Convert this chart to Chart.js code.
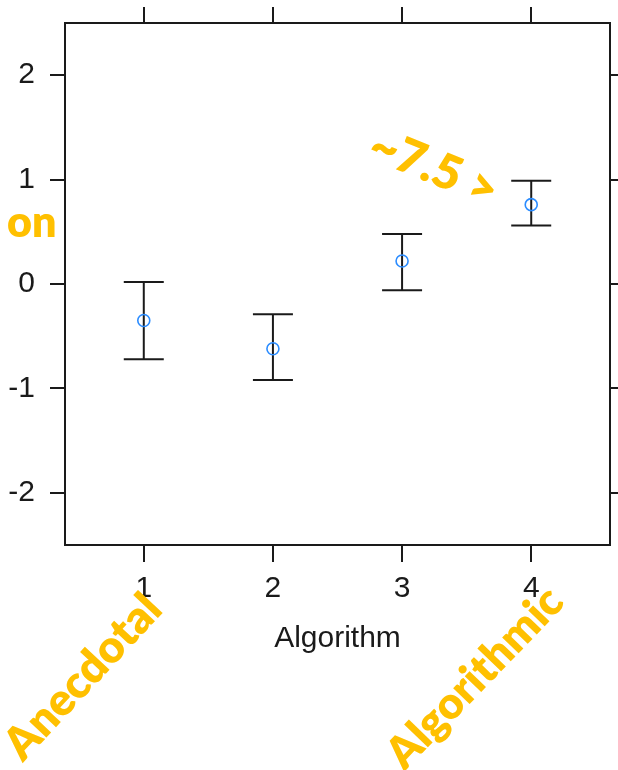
<!DOCTYPE html>
<html lang="en">
<head>
  <meta charset="UTF-8">
  <title>Algorithm error bars</title>
  <script src="https://cdn.jsdelivr.net/npm/chart.js"></script>
  <style>
    html, body { margin: 0; padding: 0; background: #fff; }
    canvas { display: block; }
  </style>
</head>
<body>
  <canvas id="chart" width="618" height="770"></canvas>

  <script>
    // values
    const categories = [1, 2, 3, 4];
    const means = [-0.35, -0.62, 0.22, 0.76];
    const lower = [-0.72, -0.92, -0.06, 0.56];
    const upper = [0.02, -0.29, 0.48, 0.99];
    const yTicks = [-2, -1, 0, 1, 2];
    const xTitle = 'Algorithm';

    const ink = '#1a1a1a';
    const gold = '#FFC000';
    const tickFont = { family: 'Liberation Sans', size: 30 };

    // yellow hand-written notes on top of the plot
    const notes = [
      { text: 'on', x: 7, y: 237, size: 43, angle: 0, align: 'left', base: 'alphabetic' },
      { text: '~7.5 >', x: 434, y: 168, size: 48, angle: 22, align: 'center', base: 'middle' },
      { text: 'Anecdotal', x: 83, y: 677, size: 45, angle: -47, align: 'center', base: 'middle' },
      { text: 'Algorithmic', x: 475, y: 678, size: 44, angle: -46, align: 'center', base: 'middle' }
    ];

    const notesPlugin = {
      id: 'notes',
      afterDraw(chart) {
        const ctx = chart.ctx;
        ctx.save();
        ctx.fillStyle = gold;
        notes.forEach(n => {
          ctx.save();
          ctx.font = '800 ' + n.size + 'px Lato';
          ctx.translate(n.x, n.y);
          ctx.rotate(n.angle * Math.PI / 180);
          ctx.textAlign = n.align;
          ctx.textBaseline = n.base;
          ctx.fillText(n.text, 0, 0);
          ctx.restore();
        });
        ctx.restore();
      }
    };

    // one small line dataset per error bar, caps are 'line' point markers
    const barSets = categories.map((c, i) => ({
      data: [{ x: c, y: lower[i] }, { x: c, y: upper[i] }],
      showLine: true,
      borderColor: ink,
      borderWidth: 2,
      pointStyle: 'line',
      pointRadius: 20,
      pointHoverRadius: 20,
      pointBorderColor: ink,
      pointBorderWidth: 2,
      order: 1
    }));

    const pointSet = {
      data: categories.map((c, i) => ({ x: c, y: means[i] })),
      pointStyle: 'circle',
      pointRadius: 6,
      pointHoverRadius: 6,
      pointBorderColor: '#2b8cff',
      pointBackgroundColor: 'rgba(0,0,0,0)',
      pointBorderWidth: 1.6,
      order: 0
    };

    const xTickList = s => { s.ticks = categories.map(v => ({ value: v })); };
    const yTickList = s => { s.ticks = yTicks.map(v => ({ value: v })); };
    const fixSize = (w, h) => s => {
      if (w !== null) s.width = w;
      if (h !== null) s.height = h;
      s.paddingLeft = s.paddingRight = s.paddingTop = s.paddingBottom = 0;
    };

    new Chart(document.getElementById('chart'), {
      type: 'scatter',
      data: { datasets: [pointSet, ...barSets] },
      plugins: [notesPlugin],
      options: {
        responsive: false,
        animation: false,
        layout: { autoPadding: false, padding: { left: 0, right: 0, top: 0, bottom: 113 } },
        plugins: {
          legend: { display: false },
          tooltip: { enabled: false }
        },
        scales: {
          x: {
            type: 'linear',
            position: 'bottom',
            min: 0.39,
            max: 4.61,
            afterBuildTicks: xTickList,
            ticks: { color: ink, font: tickFont, padding: 9, maxRotation: 0, callback: v => String(v) },
            grid: { drawOnChartArea: false, color: ink, lineWidth: 2, tickLength: 17 },
            border: { color: ink, width: 2 },
            title: { display: true, text: xTitle, color: ink, font: tickFont, padding: { top: 0, bottom: 0 } },
            afterFit: fixSize(null, 112)
          },
          xTop: {
            type: 'linear',
            position: 'top',
            min: 0.39,
            max: 4.61,
            afterBuildTicks: xTickList,
            ticks: { display: false },
            grid: { drawOnChartArea: false, color: ink, lineWidth: 2, tickLength: 16 },
            border: { color: ink, width: 2 },
            afterFit: fixSize(null, 23)
          },
          y: {
            type: 'linear',
            position: 'left',
            min: -2.5,
            max: 2.5,
            afterBuildTicks: yTickList,
            ticks: { color: ink, font: tickFont, padding: 15, callback: v => String(v) },
            grid: { drawOnChartArea: false, color: ink, lineWidth: 2, tickLength: 15 },
            border: { color: ink, width: 2 },
            afterFit: fixSize(65, null)
          },
          yRight: {
            type: 'linear',
            position: 'right',
            min: -2.5,
            max: 2.5,
            afterBuildTicks: yTickList,
            ticks: { display: false },
            grid: { drawOnChartArea: false, color: ink, lineWidth: 2, tickLength: 10 },
            border: { color: ink, width: 2 },
            afterFit: fixSize(8, null)
          }
        }
      }
    });
  </script>
</body>
</html>
